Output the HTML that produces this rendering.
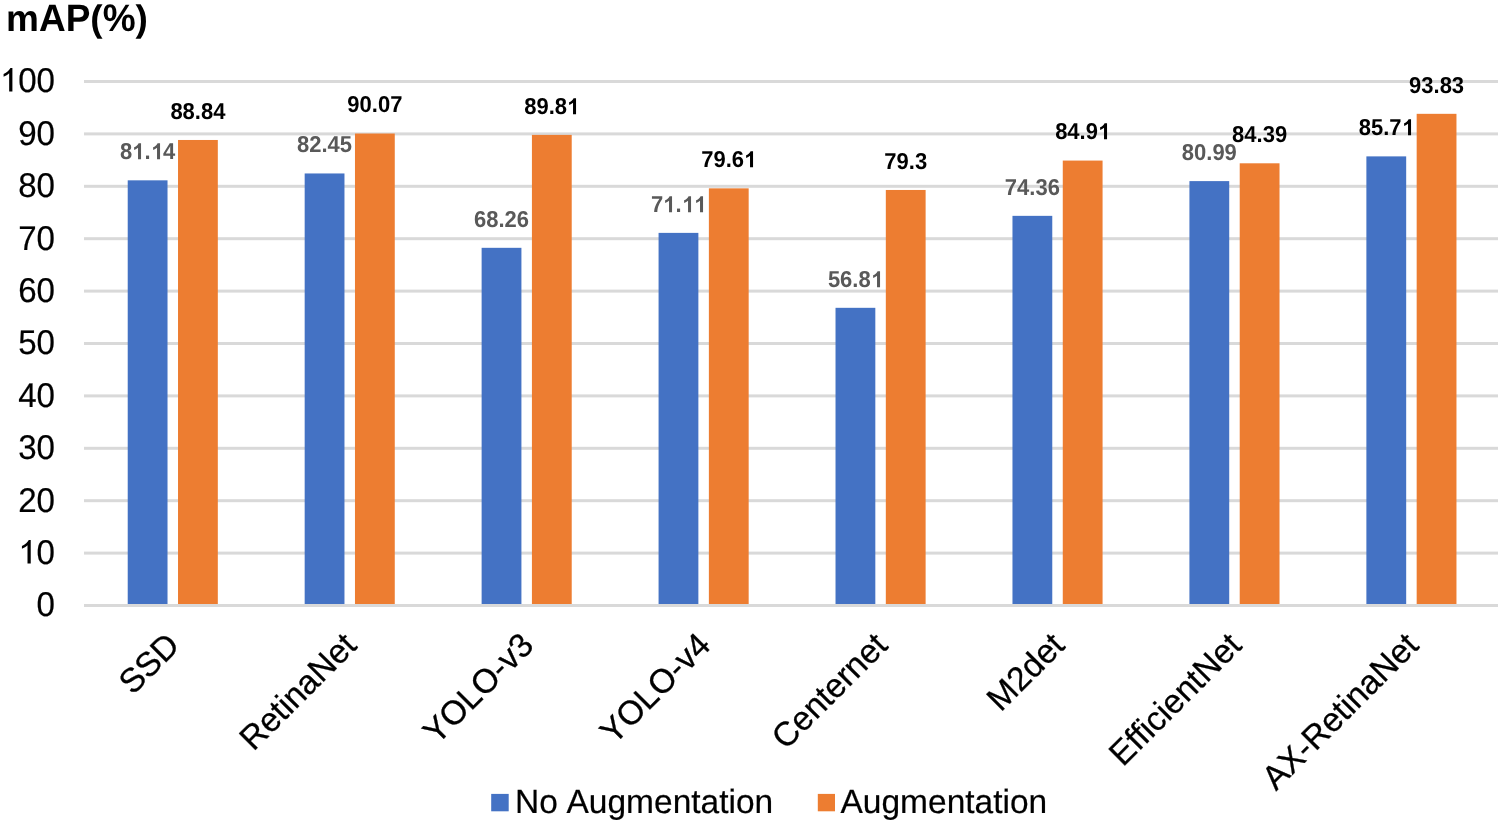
<!DOCTYPE html>
<html><head><meta charset="utf-8"><style>
html,body{margin:0;padding:0;background:#fff;}
body{text-rendering:geometricPrecision;width:1498px;height:824px;position:relative;overflow:hidden;font-family:"Liberation Sans",sans-serif;}
.a{position:absolute;white-space:nowrap;line-height:1;}
.lg{-webkit-text-stroke:0.2px #000;}
svg{position:absolute;left:0;top:0;}
.one{display:inline-block;width:0.55615em;height:0;position:relative;}
.one svg{position:absolute;left:0;top:auto;bottom:-0.02em;width:0.55615em;height:0.69824em;overflow:visible;}
.yl .one svg{bottom:0.01em;height:0.6880em;}
.yl{position:absolute;width:60px;text-align:right;font-size:34.3px;line-height:1;color:#000;-webkit-text-stroke:0.2px #000;transform-origin:100% 50%;transform:scaleX(0.965);}
.dl{position:absolute;width:100px;text-align:center;font-size:22px;line-height:1;font-weight:bold;white-space:nowrap;transform-origin:50% 18.62px;transform:scaleY(1.045);}
.xl{position:absolute;width:400px;text-align:right;font-size:33.4px;line-height:1;white-space:nowrap;transform-origin:100% 50%;transform:rotate(-45deg) scaleY(1.015);-webkit-text-stroke:0.3px #000;}
</style></head><body><div id="w" style="position:absolute;left:0;top:0;width:1498px;height:824px;will-change:transform">
<svg width="1498" height="824" viewBox="0 0 1498 824"><rect x="84" y="80.00" width="1414" height="3" fill="#d9d9d9"/><rect x="84" y="132.40" width="1414" height="3" fill="#d9d9d9"/><rect x="84" y="184.80" width="1414" height="3" fill="#d9d9d9"/><rect x="84" y="237.20" width="1414" height="3" fill="#d9d9d9"/><rect x="84" y="289.60" width="1414" height="3" fill="#d9d9d9"/><rect x="84" y="342.00" width="1414" height="3" fill="#d9d9d9"/><rect x="84" y="394.40" width="1414" height="3" fill="#d9d9d9"/><rect x="84" y="446.80" width="1414" height="3" fill="#d9d9d9"/><rect x="84" y="499.20" width="1414" height="3" fill="#d9d9d9"/><rect x="84" y="551.60" width="1414" height="3" fill="#d9d9d9"/><rect x="127.72" y="180.33" width="39.8" height="425.17" fill="#4472c4"/><rect x="178.02" y="139.98" width="39.8" height="465.52" fill="#ed7d31"/><rect x="304.67" y="173.46" width="39.8" height="432.04" fill="#4472c4"/><rect x="354.97" y="133.53" width="39.8" height="471.97" fill="#ed7d31"/><rect x="481.62" y="247.82" width="39.8" height="357.68" fill="#4472c4"/><rect x="531.92" y="134.90" width="39.8" height="470.60" fill="#ed7d31"/><rect x="658.57" y="232.88" width="39.8" height="372.62" fill="#4472c4"/><rect x="708.87" y="188.34" width="39.8" height="417.16" fill="#ed7d31"/><rect x="835.52" y="307.82" width="39.8" height="297.68" fill="#4472c4"/><rect x="885.82" y="189.97" width="39.8" height="415.53" fill="#ed7d31"/><rect x="1012.47" y="215.85" width="39.8" height="389.65" fill="#4472c4"/><rect x="1062.77" y="160.57" width="39.8" height="444.93" fill="#ed7d31"/><rect x="1189.42" y="181.11" width="39.8" height="424.39" fill="#4472c4"/><rect x="1239.72" y="163.30" width="39.8" height="442.20" fill="#ed7d31"/><rect x="1366.38" y="156.38" width="39.8" height="449.12" fill="#4472c4"/><rect x="1416.67" y="113.83" width="39.8" height="491.67" fill="#ed7d31"/><rect x="84" y="604" width="1414" height="3" fill="#d9d9d9"/><rect x="491.2" y="793.9" width="17.5" height="17.4" fill="#4472c4"/><rect x="817.8" y="793.9" width="17.2" height="17.4" fill="#ed7d31"/></svg>
<div class="a" style="left:6px;top:0px;font-size:37px;font-weight:bold;">m<span style="display:inline-block;transform:scaleY(1.035);transform-origin:50% 31.32px">AP</span>(<span style="display:inline-block;transform:scaleY(1.035);transform-origin:50% 31.32px">%</span>)</div>
<div class="yl" style="left:-5.00px;top:64.41px"><span class="one"><svg viewBox="0 0 1139 1409" preserveAspectRatio="none"><path d="M768 1409L568 1409L568 316Q510 371 412 430Q307 489 223 519L223 352Q374 284 487 188Q600 91 647 0L768 0Z" fill="currentColor"/></svg></span>00</div>
<div class="yl" style="left:-5.00px;top:116.81px">90</div>
<div class="yl" style="left:-5.00px;top:169.21px">80</div>
<div class="yl" style="left:-5.00px;top:221.61px">70</div>
<div class="yl" style="left:-5.00px;top:274.01px">60</div>
<div class="yl" style="left:-5.00px;top:326.41px">50</div>
<div class="yl" style="left:-5.00px;top:378.81px">40</div>
<div class="yl" style="left:-5.00px;top:431.21px">30</div>
<div class="yl" style="left:-5.00px;top:483.61px">20</div>
<div class="yl" style="left:-5.00px;top:536.01px"><span class="one"><svg viewBox="0 0 1139 1409" preserveAspectRatio="none"><path d="M768 1409L568 1409L568 316Q510 371 412 430Q307 489 223 519L223 352Q374 284 487 188Q600 91 647 0L768 0Z" fill="currentColor"/></svg></span>0</div>
<div class="yl" style="left:-5.00px;top:588.41px">0</div>
<div class="dl" style="left:97.62px;top:140.90px;color:#595959">8<span class="one"><svg viewBox="0 0 1139 1409" preserveAspectRatio="none"><path d="M842 1409L561 1409L561 394Q407 533 198 599L198 355Q308 320 437 224Q566 128 614 0L842 0Z" fill="currentColor"/></svg></span>.<span class="one"><svg viewBox="0 0 1139 1409" preserveAspectRatio="none"><path d="M842 1409L561 1409L561 394Q407 533 198 599L198 355Q308 320 437 224Q566 128 614 0L842 0Z" fill="currentColor"/></svg></span>4</div>
<div class="dl" style="left:147.92px;top:100.90px;color:#000">88.84</div>
<div class="dl" style="left:274.57px;top:133.90px;color:#595959">82.45</div>
<div class="dl" style="left:324.87px;top:93.90px;color:#000">90.07</div>
<div class="dl" style="left:451.52px;top:208.90px;color:#595959">68.26</div>
<div class="dl" style="left:501.82px;top:95.90px;color:#000">89.8<span class="one"><svg viewBox="0 0 1139 1409" preserveAspectRatio="none"><path d="M842 1409L561 1409L561 394Q407 533 198 599L198 355Q308 320 437 224Q566 128 614 0L842 0Z" fill="currentColor"/></svg></span></div>
<div class="dl" style="left:628.47px;top:193.90px;color:#595959">7<span class="one"><svg viewBox="0 0 1139 1409" preserveAspectRatio="none"><path d="M842 1409L561 1409L561 394Q407 533 198 599L198 355Q308 320 437 224Q566 128 614 0L842 0Z" fill="currentColor"/></svg></span>.<span class="one"><svg viewBox="0 0 1139 1409" preserveAspectRatio="none"><path d="M842 1409L561 1409L561 394Q407 533 198 599L198 355Q308 320 437 224Q566 128 614 0L842 0Z" fill="currentColor"/></svg></span><span class="one"><svg viewBox="0 0 1139 1409" preserveAspectRatio="none"><path d="M842 1409L561 1409L561 394Q407 533 198 599L198 355Q308 320 437 224Q566 128 614 0L842 0Z" fill="currentColor"/></svg></span></div>
<div class="dl" style="left:678.77px;top:148.90px;color:#000">79.6<span class="one"><svg viewBox="0 0 1139 1409" preserveAspectRatio="none"><path d="M842 1409L561 1409L561 394Q407 533 198 599L198 355Q308 320 437 224Q566 128 614 0L842 0Z" fill="currentColor"/></svg></span></div>
<div class="dl" style="left:805.42px;top:268.90px;color:#595959">56.8<span class="one"><svg viewBox="0 0 1139 1409" preserveAspectRatio="none"><path d="M842 1409L561 1409L561 394Q407 533 198 599L198 355Q308 320 437 224Q566 128 614 0L842 0Z" fill="currentColor"/></svg></span></div>
<div class="dl" style="left:855.72px;top:150.90px;color:#000">79.3</div>
<div class="dl" style="left:982.38px;top:176.90px;color:#595959">74.36</div>
<div class="dl" style="left:1032.67px;top:120.90px;color:#000">84.9<span class="one"><svg viewBox="0 0 1139 1409" preserveAspectRatio="none"><path d="M842 1409L561 1409L561 394Q407 533 198 599L198 355Q308 320 437 224Q566 128 614 0L842 0Z" fill="currentColor"/></svg></span></div>
<div class="dl" style="left:1159.33px;top:141.90px;color:#595959">80.99</div>
<div class="dl" style="left:1209.62px;top:123.90px;color:#000">84.39</div>
<div class="dl" style="left:1336.28px;top:116.90px;color:#000">85.7<span class="one"><svg viewBox="0 0 1139 1409" preserveAspectRatio="none"><path d="M842 1409L561 1409L561 394Q407 533 198 599L198 355Q308 320 437 224Q566 128 614 0L842 0Z" fill="currentColor"/></svg></span></div>
<div class="dl" style="left:1386.58px;top:74.90px;color:#000">93.83</div>
<div class="xl" style="left:-225.62px;top:623.15px">SSD</div>
<div class="xl" style="left:-48.68px;top:623.15px">RetinaNet</div>
<div class="xl" style="left:128.28px;top:623.15px">YOLO-v3</div>
<div class="xl" style="left:305.22px;top:623.15px">YOLO-v4</div>
<div class="xl" style="left:482.17px;top:623.15px">Centernet</div>
<div class="xl" style="left:659.12px;top:623.15px">M2det</div>
<div class="xl" style="left:836.07px;top:623.15px">EfficientNet</div>
<div class="xl" style="left:1013.02px;top:623.15px">AX-RetinaNet</div>
<div class="a lg" style="left:515px;top:786.04px;font-size:33.5px;">No</div>
<div class="a lg" style="left:566.5px;top:786.04px;font-size:33.5px;">Augmentation</div>
<div class="a lg" style="left:840.5px;top:786.04px;font-size:33.5px;">Augmentation</div>
</div></body></html>
